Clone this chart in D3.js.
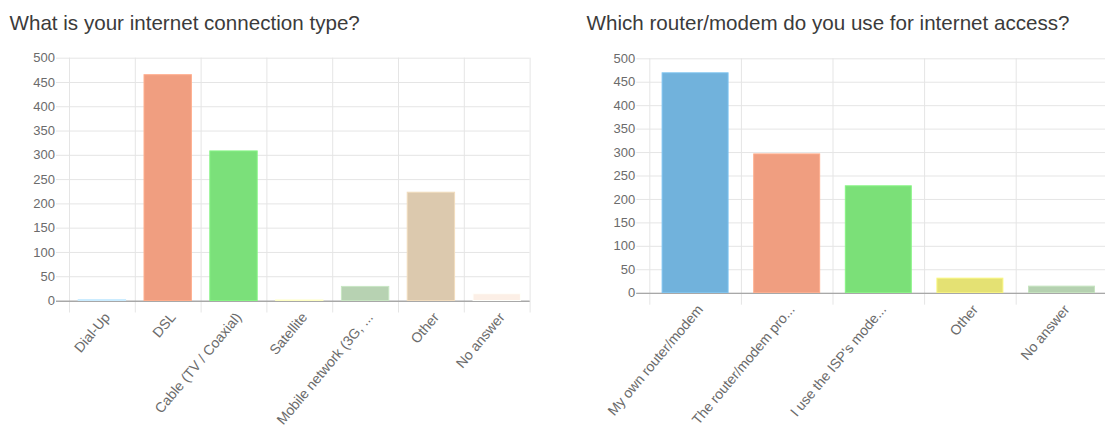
<!DOCTYPE html>
<html>
<head>
<meta charset="utf-8">
<script src="https://cdn.jsdelivr.net/npm/d3@7/dist/d3.min.js"></script>
<style>
  html, body { margin: 0; padding: 0; background: #fff; }
  svg { display: block; font-family: "Liberation Sans", Arial, sans-serif; }
</style>
</head>
<body>
<svg id="chart" width="1105" height="426"></svg>
<script>
// ---- Data ----
const leftTitle = "What is your internet connection type?";
const leftCategories = ["Dial-Up", "DSL", "Cable (TV / Coaxial)", "Satellite", "Mobile network (3G, ...", "Other", "No answer"];
const leftValues = [2, 465, 308, 1, 29, 223, 14];
const leftColors = ["#b9d8ee", "#f09e80", "#7be07a", "#efe9b2", "#b7d2b2", "#dcc9ae", "#fcefe6"];

const rightTitle = "Which router/modem do you use for internet access?";
const rightCategories = ["My own router/modem", "The router/modem pro...", "I use the ISP's mode...", "Other", "No answer"];
const rightValues = [469, 296, 228, 31, 14];
const rightColors = ["#71b2dc", "#f09e80", "#7be078", "#e4e173", "#b5d1b0"];

const yTicks = [0, 50, 100, 150, 200, 250, 300, 350, 400, 450, 500];

const svg = d3.select("#chart");

function drawChart(cfg) {
  const g = svg.append("g");
  const x = d3.scaleBand().domain(cfg.categories).range([cfg.x0, cfg.x1]).paddingInner(0).paddingOuter(0);
  const y = d3.scaleLinear().domain([0, 500]).range([cfg.y0, cfg.y1]);

  // title
  g.append("text")
    .attr("x", cfg.titleX).attr("y", 30)
    .attr("fill", "#3b3b3b")
    .style("font-size", "20.6px")
    .text(cfg.title);

  // vertical grid lines at band boundaries
  const bounds = cfg.categories.map(c => x(c)).concat([x.range()[1]]);
  g.append("g").selectAll("line").data(bounds).join("line")
    .attr("x1", d => d + 0.5).attr("x2", d => d + 0.5)
    .attr("y1", y(500)).attr("y2", y(0) + 12)
    .attr("stroke", "#e5e5e5").attr("stroke-width", 1);

  // y axis with gridlines
  const yAxis = d3.axisLeft(y).tickValues(yTicks).tickSize(-(cfg.x1 - cfg.x0 + 13)).tickPadding(1);
  const ya = g.append("g").attr("transform", `translate(${cfg.x0 - 13},0)`).call(yAxis);
  ya.select(".domain").remove();
  ya.selectAll(".tick line").attr("stroke", "#e5e5e5");
  ya.selectAll(".tick text").attr("fill", "#6b6b6b").style("font-size", "13px").style("font-family", "Liberation Sans, Arial, sans-serif");
  ya.selectAll(".tick").filter(d => d === 0).select("line").attr("stroke", "#a8a8a8");

  // bars
  const bw = x.bandwidth() * 0.72;
  g.append("g").selectAll("rect").data(cfg.values).join("rect")
    .attr("x", (d, i) => x(cfg.categories[i]) + (x.bandwidth() - bw) / 2)
    .attr("width", bw)
    .attr("y", d => y(d))
    .attr("height", d => y(0) - y(d))
    .attr("fill", (d, i) => cfg.colors[i])
    .attr("stroke", (d, i) => d3.color(cfg.colors[i]).brighter(0.25))
    .attr("stroke-width", 1);

  // redraw zero line on top
  g.append("line")
    .attr("x1", cfg.x0 - 13).attr("x2", cfg.x1)
    .attr("y1", Math.round(y(0)) + 0.5).attr("y2", Math.round(y(0)) + 0.5)
    .attr("stroke", "#a8a8a8");

  // x labels
  const xAxis = d3.axisBottom(x).tickSize(0).tickPadding(0);
  const xa = g.append("g").attr("transform", `translate(0,${y(0)})`).call(xAxis);
  xa.select(".domain").remove();
  xa.selectAll(".tick text")
    .attr("fill", "#6b6b6b")
    .style("font-size", "14px")
    .style("font-family", "Liberation Sans, Arial, sans-serif")
    .attr("text-anchor", "end")
    .attr("y", 0).attr("dy", "0.35em")
    .attr("transform", "translate(5,14) rotate(-50)");
}

drawChart({
  title: leftTitle, titleX: 9.5,
  categories: leftCategories, values: leftValues, colors: leftColors,
  x0: 69, x1: 529.6, y0: 300.5, y1: 57.7
});

drawChart({
  title: rightTitle, titleX: 586.5,
  categories: rightCategories, values: rightValues, colors: rightColors,
  x0: 649.3, x1: 1107.3, y0: 292.7, y1: 58.3
});
</script>
</body>
</html>
